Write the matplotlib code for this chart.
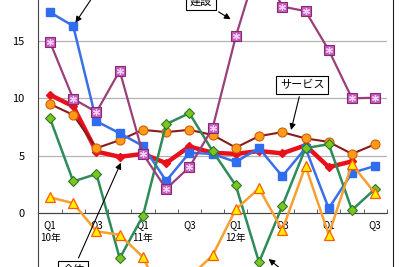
import numpy as np
import matplotlib.pyplot as plt
from matplotlib.lines import Line2D
from matplotlib.ticker import FixedLocator

plt.rcParams['font.family'] = ['Noto Sans CJK JP', 'DejaVu Sans']

# quarters Q1 2010 .. Q3 2013
quarters = np.arange(15)
tick_pos = [0, 2, 4, 6, 8, 10, 12, 14]
tick_labels = ["Q1\n10年", "Q3", "Q1\n11年", "Q3", "Q1\n12年", "Q3", "Q1", "Q3"]

blue = [17.5, 16.3, 8.0, 6.95, 5.85, 2.8, 5.25, 5.15, 4.45, 5.65, 3.2, 5.65, 0.4, 3.5, 4.1]
construction = [14.9, 9.95, 8.8, 12.4, 5.15, 2.1, 4.0, 7.4, 15.4, 22.0, 18.0, 17.6, 14.2, 10.0, 10.05]
overall = [10.3, 9.3, 5.35, 4.9, 5.15, 4.35, 5.8, 5.25, 5.15, 5.4, 5.2, 5.9, 4.0, 4.5, np.nan]
service = [9.5, 8.55, 5.65, 6.35, 7.25, 7.05, 7.25, 6.8, 5.7, 6.7, 7.05, 6.5, 6.2, 5.15, 6.0]
green = [8.25, 2.75, 3.4, -3.95, -0.26, 7.75, 8.7, 5.4, 2.4, -4.3, 0.6, 5.65, 6.0, 0.26, 2.1]
orange = [1.37, 0.85, -1.6, -1.9, -3.85, -8.0, -5.6, -3.7, 0.32, 2.15, -1.5, 4.1, -1.9, 4.25, 1.7]

fig = plt.figure(figsize=(4, 2.67), dpi=100)
ax = fig.add_axes([0.096, 0.0, 0.871, 1.0])

ax.plot(quarters, overall, color='#e8101a', lw=3.2, marker='D', ms=4,
        mfc='#e8101a', mec='#e8101a', zorder=3)
ax.plot(quarters, service, color='#8b1a1a', lw=1.5, marker='o', ms=6.5,
        mfc='#ff9a1a', mec='#d06000', mew=0.8, zorder=4)
ax.plot(quarters, blue, color='#3a6fe8', lw=1.8, marker='s', ms=6,
        mfc='#2f6cf0', mec='#2f6cf0', zorder=5)
ax.plot(quarters, green, color='#2e8b5a', lw=1.8, marker='D', ms=5.5,
        mfc='#7cc41e', mec='#2a7a2a', mew=0.8, zorder=5)
ax.plot(quarters, orange, color='#f5a030', lw=1.8, marker='^', ms=7,
        mfc='#ffee00', mec='#ff5a00', mew=0.9, zorder=5)
ax.plot(quarters, construction, color='#9b3f7a', lw=1.6, marker='s', ms=7,
        mfc='#c05cc0', mec='#8a2a6a', mew=0.8, zorder=6)
ax.plot(quarters, construction, ls='none', marker=(6, 2, 0), ms=5,
        mec='#f6d0f6', mew=0.9, zorder=7)

ax.set_xlim(-0.5, 14.5)
ax.set_ylim(-4.71, 18.57)

ax.set_yticks([0, 5, 10, 15])
ax.tick_params(axis='y', length=0, pad=10, labelsize=8)
ax.yaxis.grid(True, color='#b4b4b4', lw=0.9)
ax.set_axisbelow(True)

ax.spines['top'].set_visible(False)
ax.spines['right'].set_visible(False)
ax.spines['bottom'].set_position(('data', 0))
ax.spines['left'].set_color('#444444')
ax.spines['bottom'].set_color('#444444')

ax.set_xticks(tick_pos)
ax.set_xticklabels(tick_labels, fontsize=7, linespacing=1.4)
ax.xaxis.set_minor_locator(FixedLocator(np.arange(-0.5, 15, 1)))
ax.tick_params(axis='x', which='major', length=0, pad=5)
ax.tick_params(axis='x', which='minor', direction='in', length=3, color='#444444')

box = dict(boxstyle='square,pad=0.35', fc='white', ec='black', lw=0.8)
arrow = dict(arrowstyle='-|>', color='black', lw=0.8, mutation_scale=9)

ax.annotate("建設", xy=(7.88, 16.77), xytext=(6.49, 18.48), fontsize=8,
            ha='center', va='center', bbox=box, arrowprops=arrow,
            annotation_clip=False, zorder=10)
ax.annotate("サービス", xy=(10.35, 7.0), xytext=(10.86, 11.19), fontsize=8,
            ha='center', va='center', bbox=box, arrowprops=arrow, zorder=10)
ax.annotate("全体", xy=(3.1, 4.6), xytext=(1.0, -4.95), fontsize=8,
            ha='center', va='center', bbox=box, arrowprops=arrow,
            annotation_clip=False, zorder=10)
ax.annotate("", xy=(1.03, 16.39), xytext=(1.98, 19.27), arrowprops=arrow,
            annotation_clip=False, zorder=10)
ax.annotate("", xy=(9.32, -3.86), xytext=(10.1, -5.14), arrowprops=arrow,
            annotation_clip=False, zorder=10)

fig.add_artist(Line2D([393 / 400] * 2, [0, 1], color='#222222', lw=0.8))

fig.savefig("out.png", dpi=100)
